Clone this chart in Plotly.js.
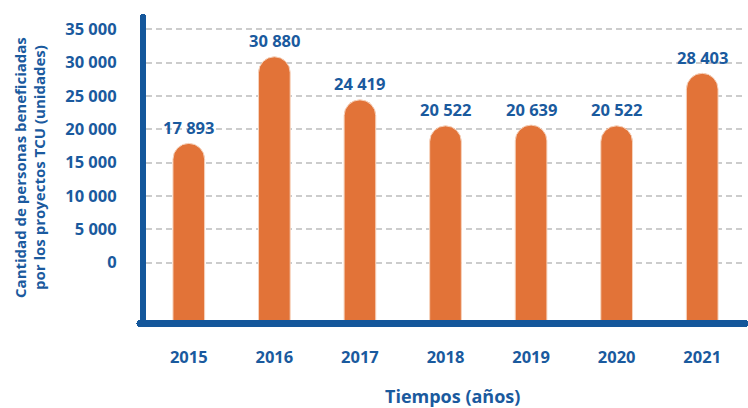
<!DOCTYPE html>
<html><head><meta charset="utf-8">
<script src="https://cdn.plot.ly/plotly-3.0.1.min.js"></script>
<style>
html,body{margin:0;padding:0;background:#fff}
#chart{width:748px;height:408px}
path.xlines-above, path.ylines-above{stroke-linecap:round}
</style></head><body><div id="chart"></div>
<script>
const years = ['2015', '2016', '2017', '2018', '2019', '2020', '2021'];
const values = [17893, 30880, 24419, 20522, 20639, 20522, 28403];
const valueLabels = ['17 893', '30 880', '24 419', '20 522', '20 639', '20 522', '28 403'];
const yTickVals = [0, 5000, 10000, 15000, 20000, 25000, 30000, 35000];
const yTickText = ['0', '5 000', '10 000', '15 000', '20 000', '25 000', '30 000', '35 000'];
const yTitle = 'Cantidad de personas beneficiadas<br>por los proyectos TCU (unidades)';
const xTitle = 'Tiempos (años)';

const BLUE = '#1a5a9e';
const LINEBLUE = '#14579b';
const ORANGE = '#e27338';
const FONT = '"Open Sans", "DejaVu Sans", sans-serif';
const yMin = -8593, yMax = 36845;
const barBase = yMin - 6000; // below the visible range so the foot is clipped flat

const trace = {
  type: 'bar',
  x: years,
  base: barBase,
  y: values.map(v => v - barBase),
  marker: {color: ORANGE, cornerradius: '50%', line: {color: '#f6d3bd', width: 1}},
  hoverinfo: 'skip'
};

const annotations = years.map((yr, i) => ({
  x: i, y: values[i], xref: 'x', yref: 'y',
  text: valueLabels[i], showarrow: false,
  xanchor: 'center', yanchor: 'middle', yshift: 16,
  font: {family: FONT, size: 16.5, color: BLUE, weight: 700}
}));
annotations.push({
  xref: 'paper', yref: 'paper', x: -0.1937, y: 0.505,
  text: yTitle, showarrow: false, textangle: -90,
  xanchor: 'center', yanchor: 'middle',
  font: {family: FONT, size: 15, color: BLUE, weight: 700}
});
annotations.push({
  xref: 'paper', yref: 'paper', x: 0.511, y: -0.252,
  text: xTitle, showarrow: false,
  xanchor: 'center', yanchor: 'middle',
  font: {family: FONT, size: 18, color: BLUE, weight: 700}
});

const layout = {
  width: 748, height: 408,
  margin: {l: 146, r: 3, t: 17, b: 88},
  paper_bgcolor: '#fff', plot_bgcolor: '#fff',
  showlegend: false,
  bargap: 0.63,
  font: {family: FONT, color: BLUE},
  xaxis: {
    type: 'category', range: [-0.5, 6.5],
    showline: true, linewidth: 7, linecolor: LINEBLUE,
    showgrid: false, zeroline: false, ticks: '',
    ticklabelstandoff: 16,
    tickfont: {family: FONT, size: 16.5, color: BLUE, weight: 700},
    fixedrange: true
  },
  yaxis: {
    range: [yMin, yMax],
    tickmode: 'array', tickvals: yTickVals, ticktext: yTickText,
    showline: true, linewidth: 6, linecolor: LINEBLUE,
    showgrid: true, gridcolor: '#cccccc', gridwidth: 2, griddash: '6px,4px',
    zeroline: false, ticks: '',
    ticklabelstandoff: 20,
    tickfont: {family: FONT, size: 16.5, color: BLUE, weight: 700},
    fixedrange: true
  },
  annotations: annotations
};

Plotly.newPlot('chart', [trace], layout, {displayModeBar: false, staticPlot: true});
</script></body></html>
